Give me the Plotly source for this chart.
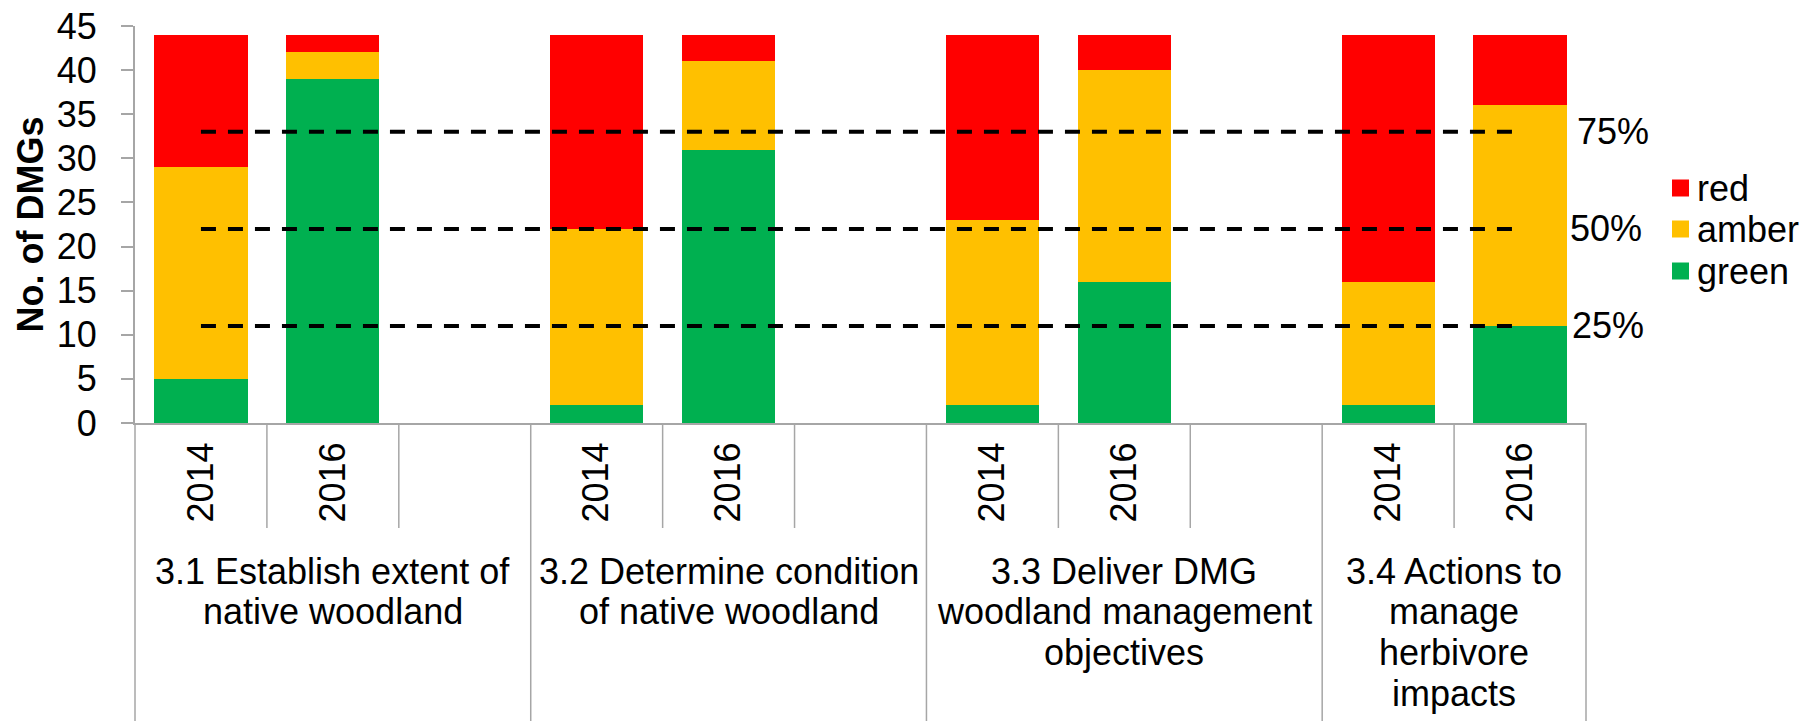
import plotly.graph_objects as go

# ---- data ----
groups = [
    "3.1 Establish extent of<br>native woodland",
    "3.2 Determine condition<br>of native woodland",
    "3.3 Deliver DMG<br>woodland management<br>objectives",
    "3.4 Actions to<br>manage<br>herbivore<br>impacts",
]
years = ["2014", "2016"]
green = [5, 39, 2, 31, 2, 16, 2, 11]
amber = [24, 3, 20, 10, 21, 24, 14, 25]
red = [15, 2, 22, 3, 21, 4, 28, 8]
series_names = ["red", "amber", "green"]
series_colors = ["#FF0000", "#FFC000", "#00B050"]
thresholds = [11, 22, 33]
threshold_labels = ["25%", "50%", "75%"]
y_ticks = list(range(0, 50, 5))

FONT = "Liberation Sans, Arial, sans-serif"
FS = 36
AXIS_GRAY = "#A6A6A6"

# slot layout: each group has 3 slots (2014, 2016, blank); last group has 2
slots_per_group = 3
n_slots = slots_per_group * (len(groups) - 1) + len(years)
bar_x = []
bar_labels = []
for gi in range(len(groups)):
    for yi, yr in enumerate(years):
        bar_x.append(gi * slots_per_group + yi)
        bar_labels.append(yr)

values = {"green": green, "amber": amber, "red": red}
colors = dict(zip(series_names, series_colors))

fig = go.Figure()
for name in ["green", "amber", "red"]:
    fig.add_trace(go.Bar(x=bar_x, y=values[name], name=name, marker_color=colors[name],
                         marker_line_width=0, width=0.707, showlegend=False))

# threshold dashed lines from first to last bar
for t in thresholds:
    fig.add_trace(go.Scatter(x=[bar_x[0], bar_x[-1]], y=[t, t], mode="lines",
                             line=dict(color="black", width=4, dash="15px,12px"),
                             showlegend=False, hoverinfo="skip"))

# plot geometry (pixels)
W, H = 1812, 721
ml, mr, mt, mb = 135, 226, 26, 298
ph = H - mt - mb
pw = W - ml - mr

def px_x(p):
    return (p - ml) / pw

def px_y(p):
    return (H - mb - p) / ph

annotations = []
xshifts = [50, 48, 55]
for t, lab, xs in zip(thresholds, threshold_labels, xshifts):
    annotations.append(dict(x=bar_x[-1], y=t, xref="x", yref="y", text=lab,
                            showarrow=False, xanchor="left", yanchor="middle",
                            xshift=xs, font=dict(family=FONT, size=FS, color="black")))

# group labels (one annotation per line for tight line spacing)
for gi, g in enumerate(groups):
    first = gi * slots_per_group
    last = min(first + slots_per_group - 1, n_slots - 1)
    cx = (first + last) / 2
    for li, line in enumerate(g.split("<br>")):
        annotations.append(dict(x=cx, y=px_y(571 + li * 40.7), xref="x", yref="paper",
                                text=line, showarrow=False, xanchor="center",
                                yanchor="middle",
                                font=dict(family=FONT, size=FS, color="black")))

# y-axis title
annotations.append(dict(x=px_x(30), y=0.5, xref="paper", yref="paper",
                        text="<b>No. of DMGs</b>", textangle=-90, showarrow=False,
                        xanchor="center", yanchor="middle",
                        font=dict(family=FONT, size=FS, color="black")))

shapes = []
# legend (drawn manually for tight row spacing)
leg_rows = [188, 229, 271]
for name, yc in zip(series_names, leg_rows):
    shapes.append(dict(type="rect", xref="paper", yref="paper",
                       x0=px_x(1672), x1=px_x(1689), y0=px_y(yc - 8.5), y1=px_y(yc + 8.5),
                       fillcolor=colors[name], line=dict(width=0)))
    annotations.append(dict(x=px_x(1695), y=px_y(yc), xref="paper", yref="paper",
                            text=name, showarrow=False, xanchor="left", yanchor="middle",
                            font=dict(family=FONT, size=FS, color="black")))

# category divider lines below the axis
short_end = px_y(528)
long_end = px_y(H)
for b in range(n_slots + 1):
    is_group = (b % slots_per_group == 0) or b == n_slots
    xp = b / n_slots
    shapes.append(dict(type="line", xref="paper", yref="paper",
                       x0=xp, x1=xp, y0=0, y1=long_end if is_group else short_end,
                       line=dict(color=AXIS_GRAY, width=1.5)))

fig.update_layout(
    width=W, height=H,
    margin=dict(l=ml, r=mr, t=mt, b=mb, autoexpand=False),
    paper_bgcolor="white", plot_bgcolor="white",
    barmode="stack",
    font=dict(family=FONT, size=FS, color="black"),
    showlegend=False,
    xaxis=dict(range=[-0.5, n_slots - 0.5], tickmode="array", tickvals=bar_x,
               ticktext=bar_labels, tickangle=-90, ticks="", showgrid=False,
               zeroline=False, showline=True, linecolor=AXIS_GRAY, linewidth=2,
               automargin=False, ticklabelstandoff=3,
               tickfont=dict(family=FONT, size=FS, color="black")),
    yaxis=dict(range=[0, 45], tickmode="array", tickvals=y_ticks, ticks="outside",
               ticklen=12, tickcolor=AXIS_GRAY, tickwidth=2, showgrid=False,
               zeroline=False, showline=True, linecolor=AXIS_GRAY, linewidth=2,
               automargin=False, ticklabelstandoff=17,
               tickfont=dict(family=FONT, size=FS, color="black")),
    annotations=annotations,
    shapes=shapes,
)

fig.write_html("out.html", config={"displayModeBar": False},
               post_script="document.body.style.margin='0';document.body.style.overflow='hidden';")
